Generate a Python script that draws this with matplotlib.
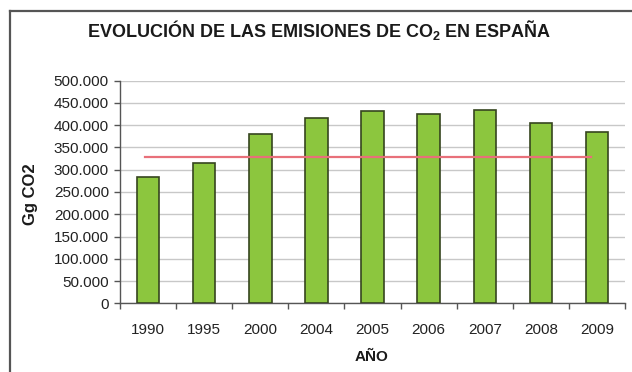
import matplotlib.pyplot as plt
from matplotlib.lines import Line2D
from matplotlib.ticker import FixedLocator

# ------------Datos--------------------------------

anos = ['1990', '1995', '2000', '2004', '2005', '2006', '2007', '2008', '2009']
emisiones = [284000, 315000, 380000, 417000, 433000, 426000, 435000, 405000, 385000]
limite_kioto = 329000
marcas_y = [0, 50000, 100000, 150000, 200000, 250000, 300000, 350000, 400000, 450000, 500000]
etiquetas_y = ['0', '50.000', '100.000', '150.000', '200.000', '250.000',
               '300.000', '350.000', '400.000', '450.000', '500.000']

# ------------Estilo--------------------------------

plt.rcParams['font.family'] = ['Liberation Sans', 'DejaVu Sans']
plt.rcParams['mathtext.fontset'] = 'custom'
plt.rcParams['mathtext.rm'] = 'Liberation Sans:bold'
plt.rcParams['mathtext.bf'] = 'Liberation Sans:bold'

W, H = 632, 372
fig = plt.figure(figsize=(W / 100, H / 100), dpi=100)
fig.patch.set_facecolor('white')

ax = fig.add_axes([120 / W, (H - 303.3) / H, (625 - 120) / W, (303.3 - 80.7) / H])

# ------------Barras y linea de referencia------------------

x = list(range(len(anos)))
ax.bar(x, emisiones, width=0.40, color='#8cc63e', edgecolor='#36451f', linewidth=1.2, zorder=3)
ax.plot([-0.05, 7.9], [limite_kioto, limite_kioto], color='#e8707a', linewidth=1.6, zorder=4)

# ------------Ejes--------------------------------

ax.set_xlim(-0.5, len(anos) - 0.5)
ax.set_ylim(0, 500000)
ax.set_yticks(marcas_y)
ax.set_yticklabels(etiquetas_y)
ax.set_xticks(x)
ax.set_xticklabels(anos)
ax.xaxis.set_minor_locator(FixedLocator([i + 0.5 for i in range(-1, len(anos))]))

ax.tick_params(axis='x', which='major', length=0, pad=14, labelsize=11, labelcolor='#222222')
ax.tick_params(axis='x', which='minor', length=4, width=1, color='#555555', direction='out')
ax.tick_params(axis='y', length=4, width=1, color='#555555', pad=4, labelsize=11, labelcolor='#222222')

ax.grid(axis='y', color='#c8c8c8', linewidth=1, zorder=0)
for lado in ['top', 'right']:
    ax.spines[lado].set_visible(False)
for lado in ['left', 'bottom']:
    ax.spines[lado].set_color('#555555')
    ax.spines[lado].set_linewidth(1)

# ------------Titulos--------------------------------

fig.text(30 / W, 1 - 194 / H, 'Gg CO2', rotation=90, ha='center', va='center',
         fontsize=12, fontweight='bold', color='#1a1a1a')
fig.text(372 / W, 1 - 357 / H, 'AÑO', ha='center', va='center',
         fontsize=11, fontweight='bold', color='#1a1a1a')
fig.text(319 / W, 1 - 30 / H, r'EVOLUCIÓN DE LAS EMISIONES DE CO$_\mathbf{2}$ EN ESPAÑA',
         ha='center', va='center', fontsize=13, fontweight='bold', color='#1a1a1a')

# ------------Marco del grafico----------------------------

fig.add_artist(Line2D([9.5 / W, 9.5 / W], [0, 1 - 11 / H], transform=fig.transFigure,
                      color='#555555', linewidth=1.6))
fig.add_artist(Line2D([9.5 / W, 1], [1 - 11 / H, 1 - 11 / H], transform=fig.transFigure,
                      color='#555555', linewidth=1.6))

fig.savefig('out.png', dpi=100)
